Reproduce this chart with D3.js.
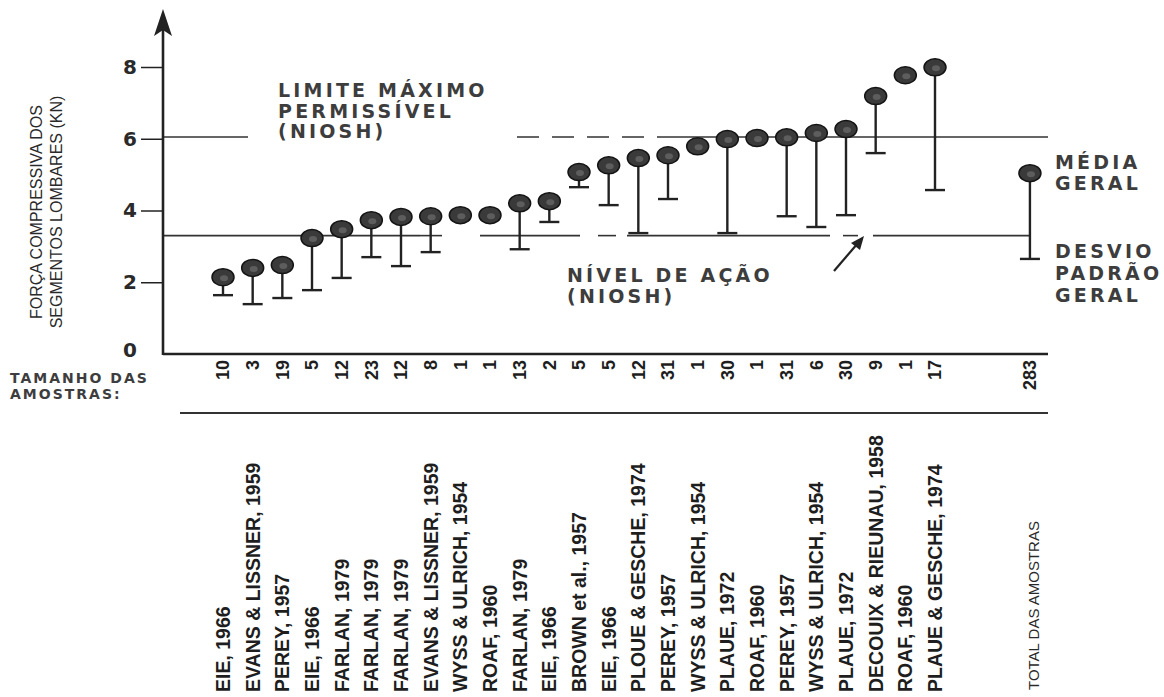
<!DOCTYPE html>
<html lang="pt">

<head>
    <meta charset="UTF-8">
    <title>Força compressiva dos segmentos lombares</title>
    <script src="https://d3js.org/d3.v7.min.js"></script>
    <style>
        body {
            margin: 0;
            background: #ffffff;
        }

        svg {
            display: block;
        }

        .note {
            font-family: "DejaVu Sans", sans-serif;
            font-weight: bold;
            font-size: 19px;
            letter-spacing: 3.2px;
            fill: #3d3d3d;
        }

        .study {
            font-family: "Liberation Sans", sans-serif;
            font-weight: bold;
            font-size: 19.5px;
            fill: #1e1e1e;
        }

        .size {
            font-family: "Liberation Sans", sans-serif;
            font-weight: bold;
            font-size: 18px;
            fill: #1e1e1e;
        }

        .ytick text {
            font-family: "DejaVu Sans", sans-serif;
            font-weight: bold;
            font-size: 20px;
            fill: #2a2a2a;
        }
    </style>
</head>

<body>
    <svg width="1164" height="697"></svg>
    <script>
        // values (kN)
        const studies = [
            "EIE, 1966", "EVANS & LISSNER, 1959", "PEREY, 1957", "EIE, 1966",
            "FARLAN, 1979", "FARLAN, 1979", "FARLAN, 1979", "EVANS & LISSNER, 1959",
            "WYSS & ULRICH, 1954", "ROAF, 1960", "FARLAN, 1979", "EIE, 1966",
            "BROWN et al., 1957", "EIE, 1966", "PLOUE & GESCHE, 1974", "PEREY, 1957",
            "WYSS & ULRICH, 1954", "PLAUE, 1972", "ROAF, 1960", "PEREY, 1957",
            "WYSS & ULRICH, 1954", "PLAUE, 1972", "DECOUIX & RIEUNAU, 1958", "ROAF, 1960",
            "PLAUE & GESCHE, 1974"
        ];
        const sampleSizes = [10, 3, 19, 5, 12, 23, 12, 8, 1, 1, 13, 2, 5, 5, 12, 31, 1, 30, 1, 31, 6, 30, 9, 1, 17];
        const means = [2.14, 2.40, 2.48, 3.23, 3.48, 3.73, 3.82, 3.84, 3.87, 3.87, 4.20, 4.26, 5.07,
            5.26, 5.46, 5.54, 5.79, 5.99, 6.02, 6.04, 6.16, 6.27, 7.19, 7.77, 7.99];
        const lowerBars = [1.64, 1.39, 1.56, 1.78, 2.12, 2.70, 2.45, 2.84, null, null, 2.92, 3.68, 4.65,
            4.15, 3.37, 4.32, null, 3.37, null, 3.84, 3.54, 3.87, 5.60, null, 4.57];

        const totalLabel = "TOTAL DAS AMOSTRAS";
        const totalSize = 283;
        const totalMean = 5.04;
        const totalLower = 2.65;

        const maxLimit = 6.05;     // limite máximo permissível (NIOSH)
        const actionLevel = 3.3;   // nível de ação (NIOSH)
        const yTicks = [0, 2, 4, 6, 8];

        const svg = d3.select("svg");

        const x = d3.scaleLinear().domain([0, studies.length - 1]).range([223, 935]);
        const totalPos = 27.2;
        const y = d3.scaleLinear().domain([0, 8]).range([354, 67]);

        const axisX = 163;
        const axisEnd = 1048;
        const ink = "#222";

        // reference lines (broken like the original print)
        const maxSegments = [[axisX, 248, false], [517, 660, true], [660, axisEnd, false]];
        const actionSegments = [[axisX, 420, false], [420, 452, true], [480, 580, false],
            [598, 616, false], [627, 830, false], [843, 858, false], [873, x(totalPos), false]];

        function refLine(value, segs) {
            svg.append("g").selectAll("line")
                .data(segs)
                .join("line")
                .attr("x1", d => d[0])
                .attr("x2", d => d[1])
                .attr("y1", y(value))
                .attr("y2", y(value))
                .attr("stroke", "#333")
                .attr("stroke-width", 1.6)
                .attr("stroke-dasharray", d => d[2] ? "22,13" : null);
        }
        refLine(maxLimit, maxSegments);
        refLine(actionLevel, actionSegments);

        // y axis
        const yAxis = d3.axisLeft(y).tickValues(yTicks).tickSizeInner(22).tickSizeOuter(0).tickPadding(4);
        const gy = svg.append("g")
            .attr("class", "ytick")
            .attr("transform", `translate(${axisX},0)`)
            .call(yAxis);
        gy.select(".domain").remove();
        gy.selectAll(".tick line").attr("stroke", ink).attr("stroke-width", 1.5)
            .filter(d => d === 0).remove();
        gy.selectAll(".tick text").filter(d => d === 0).attr("dy", "0.1em");

        svg.append("line")
            .attr("x1", axisX).attr("x2", axisX)
            .attr("y1", 30).attr("y2", y(0) + 1)
            .attr("stroke", ink).attr("stroke-width", 2.6);
        svg.append("path")
            .attr("d", `M${axisX},9 L${axisX - 9},36 L${axisX},30 L${axisX + 9},36 Z`)
            .attr("fill", ink);

        // x axis and separator
        svg.append("line")
            .attr("x1", axisX).attr("x2", axisEnd)
            .attr("y1", y(0)).attr("y2", y(0))
            .attr("stroke", ink).attr("stroke-width", 2.6);
        svg.append("line")
            .attr("x1", 180).attr("x2", axisEnd)
            .attr("y1", 413).attr("y2", 413)
            .attr("stroke", "#333").attr("stroke-width", 2);

        // lollipops
        const points = means.map((m, i) => ({ pos: i, mean: m, lower: lowerBars[i] }));
        points.push({ pos: totalPos, mean: totalMean, lower: totalLower });

        const pins = svg.append("g").selectAll("g")
            .data(points)
            .join("g");

        pins.filter(d => d.lower !== null).append("line")
            .attr("x1", d => x(d.pos)).attr("x2", d => x(d.pos))
            .attr("y1", d => y(d.mean)).attr("y2", d => y(d.lower))
            .attr("stroke", ink).attr("stroke-width", 2.4);
        pins.filter(d => d.lower !== null).append("line")
            .attr("x1", d => x(d.pos) - 10).attr("x2", d => x(d.pos) + 10)
            .attr("y1", d => y(d.lower)).attr("y2", d => y(d.lower))
            .attr("stroke", ink).attr("stroke-width", 2.4);
        pins.append("ellipse")
            .attr("cx", d => x(d.pos)).attr("cy", d => y(d.mean))
            .attr("rx", 11).attr("ry", 8.5)
            .attr("fill", "#3a3a3a").attr("stroke", "#141414").attr("stroke-width", 1.5);
        pins.append("ellipse")
            .attr("cx", d => x(d.pos) + 1).attr("cy", d => y(d.mean) + 1)
            .attr("rx", 4).attr("ry", 3)
            .attr("fill", "#7a7a7a").attr("opacity", 0.55);

        // sample sizes
        const sizes = sampleSizes.map((n, i) => ({ pos: i, n: n }));
        sizes.push({ pos: totalPos, n: totalSize });
        svg.append("g").selectAll("text")
            .data(sizes)
            .join("text")
            .attr("class", "size")
            .attr("transform", d => `translate(${x(d.pos)},360) rotate(-90)`)
            .attr("text-anchor", "end")
            .attr("dy", "0.36em")
            .text(d => d.n);

        // study names
        svg.append("g").selectAll("text")
            .data(studies)
            .join("text")
            .attr("class", "study")
            .attr("transform", (d, i) => `translate(${x(i)},692) rotate(-90)`)
            .attr("dy", "0.36em")
            .text(d => d);
        svg.append("text")
            .attr("transform", `translate(${x(totalPos) + 4},690) rotate(-90)`)
            .attr("dy", "0.36em")
            .style("font-family", "Liberation Sans, sans-serif")
            .style("font-size", "15px")
            .style("fill", "#2a2a2a")
            .text(totalLabel);

        // y axis title
        const yTitle = svg.append("text")
            .attr("transform", "translate(0,212) rotate(-90)")
            .attr("text-anchor", "middle")
            .style("font-family", "Liberation Sans, sans-serif")
            .style("font-size", "16px")
            .style("fill", "#2a2a2a");
        yTitle.append("tspan").attr("x", 0).attr("y", 42).text("FORÇA COMPRESSIVA DOS");
        yTitle.append("tspan").attr("x", 0).attr("y", 62).text("SEGMENTOS LOMBARES (KN)");

        // annotations
        function note(x0, baselines, lines, size, spacing) {
            const t = svg.append("text").attr("class", "note");
            if (size) t.style("font-size", size + "px").style("letter-spacing", spacing + "px");
            lines.forEach((s, i) => t.append("tspan").attr("x", x0).attr("y", baselines[i]).text(s));
        }
        note(278, [97, 118, 138], ["LIMITE MÁXIMO", "PERMISSÍVEL", "(NIOSH)"]);
        note(567, [282, 303], ["NÍVEL DE AÇÃO", "(NIOSH)"]);
        note(1055, [169, 190], ["MÉDIA", "GERAL"]);
        note(1055, [258, 280, 302], ["DESVIO", "PADRÃO", "GERAL"]);
        note(10, [383, 399], ["TAMANHO DAS", "AMOSTRAS:"], 14, 2);

        // arrow pointing at the action level line
        svg.append("line")
            .attr("x1", 834).attr("y1", 271).attr("x2", 858).attr("y2", 243)
            .attr("stroke", ink).attr("stroke-width", 2.2);
        svg.append("path")
            .attr("d", "M864,236 L851,243 L860,250 Z")
            .attr("fill", ink);
    </script>
</body>

</html>
